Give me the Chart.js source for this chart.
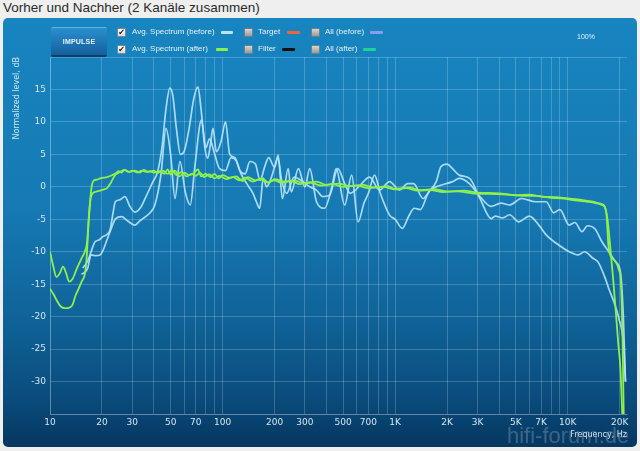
<!DOCTYPE html>
<html>
<head>
<meta charset="utf-8">
<script src="https://cdn.jsdelivr.net/npm/chart.js@4"></script>
<style>
  body { margin: 0; width: 640px; height: 451px; overflow: hidden; background: #efefef; position: relative; font-family: "Liberation Sans", Arial, sans-serif; }
  #title { position: absolute; left: 3px; top: 0px; font-size: 13.5px; color: #2b2b2b; white-space: nowrap; }
  #panel { position: absolute; left: 3px; top: 18px; width: 634px; height: 429px; border-radius: 5px; overflow: hidden;
    background: linear-gradient(#1785c0 0%, #1679b3 45%, #0f6398 70%, #0a4d7e 88%, #053760 100%); }
  #chart { position: absolute; left: 0; top: 0; }
  .txt { position: absolute; font-size: 8px; color: #e6f0f6; white-space: nowrap; line-height: 10px; }
  .box { position: absolute; width: 8px; height: 8px; border-radius: 1px; font-size: 8px; line-height: 8px; text-align: center; color: #1a1a1a; font-family: "DejaVu Sans", sans-serif; }
  .on { background: linear-gradient(#ffffff, #d8d8d8); border: 1px solid #7a8a98; width: 7px; height: 7px; }
  .off { background: linear-gradient(#d6d6d6, #9a9a9a); border: 1px solid #6f7f8c; width: 7px; height: 7px; }
  .sw { position: absolute; height: 3px; border-radius: 1px; }
  #impulse { position: absolute; left: 51px; top: 27px; width: 56px; height: 27px; border-radius: 2px;
    background: linear-gradient(#2a8fd0, #155f9c); border-top: 1px solid #5cb2e6; border-bottom: 2px solid #0b3d68;
    color: #e4f2ff; font-size: 7px; font-weight: bold; text-align: center; line-height: 27px; letter-spacing: 0.2px; }
  #mark { position: absolute; left: 507px; top: 423px; font-size: 22px; color: rgba(175,190,205,0.32); white-space: nowrap; font-family: "Liberation Sans", Arial, sans-serif; }
</style>
</head>
<body>
<div id="title">Vorher und Nachher (2 Kanäle zusammen)</div>
<div id="panel"><canvas id="chart" width="634" height="429"></canvas></div>

<div id="impulse">IMPULSE</div>

<div class="box on" style="left:117px;top:28px;">✔</div>
<div class="txt" style="left:132px;top:27px;">Avg. Spectrum (before)</div>
<div class="sw" style="left:221px;top:31px;width:12px;background:#b8e4f8;"></div>
<div class="box off" style="left:244px;top:28px;"></div>
<div class="txt" style="left:258px;top:27px;">Target</div>
<div class="sw" style="left:287px;top:31px;width:13px;background:#f0643c;"></div>
<div class="box off" style="left:311px;top:28px;"></div>
<div class="txt" style="left:325px;top:27px;">All (before)</div>
<div class="sw" style="left:370px;top:31px;width:13px;background:#8a9cf0;"></div>

<div class="box on" style="left:117px;top:45px;">✔</div>
<div class="txt" style="left:132px;top:44px;">Avg. Spectrum (after)</div>
<div class="sw" style="left:216px;top:48px;width:12px;background:#8cf04a;"></div>
<div class="box off" style="left:244px;top:45px;"></div>
<div class="txt" style="left:258px;top:44px;">Filter</div>
<div class="sw" style="left:282px;top:48px;width:13px;background:#111111;"></div>
<div class="box off" style="left:311px;top:45px;"></div>
<div class="txt" style="left:325px;top:44px;">All (after)</div>
<div class="sw" style="left:363px;top:48px;width:13px;background:#1ad49a;"></div>

<div class="txt" style="left:577px;top:32px;font-size:7px;">100%</div>
<div id="mark">hifi-forum.de</div>

<script>
// before = light blue, after = green, two channels each
const beforeFreqL = [15.5, 16.5, 17.3, 18.2, 19.2, 20.2, 21.2, 22.3, 23.2, 23.9,
  25.4, 27.2, 29, 31, 33.5, 36, 39.5, 42, 44.5, 47,
  49.5, 51.5, 54, 57, 60, 64, 68, 72, 75, 79,
  82, 85, 88, 92, 98, 104, 110, 118, 126, 135,
  144, 155, 165, 175, 185, 200, 210, 222, 240, 250,
  275, 300, 320, 350, 390, 430, 455, 510, 560, 610,
  660, 700, 760, 820, 930, 1000, 1100, 1200, 1290, 1400,
  1550, 1730, 1840, 2000, 2150, 2350, 2700, 3100, 3600, 3800,
  4200, 4600, 5200, 6000, 6800, 7500, 8900, 10200, 11500, 12500,
  14000, 15000, 16500, 17300, 18500, 19800, 21000, 21600];
const beforeDbL = [-12.5, -11.5, -10, -8.5, -8.2, -7.7, -7.4, -6.6, -4, -2.3,
  -2, -1.5, -3, -3.9, -3.2, -1.5, 0.8, 2.3, 6, 12,
  15.2, 14, 9, 5, 5.5, 9, 13.5, 15.4, 12, 6,
  4.4, 6.5, 9, 5.4, 7, 10, 5, 4.5, 2.5, 2,
  3.9, 3.5, 1, 3, 4.5, 3, 4.9, -1.8, 2.8, -0.8,
  2.8, 0, 2.8, -2.3, -3.3, 0, 2.8, -2.8, 1.8, -5.4,
  -2.5, -1, 1.8, -1, -4.4, -5, -6.4, -4.5, -3.3, -3.5,
  -1, 0.8, 3.1, 3.5, 2.8, 1.8, 1.3, -1.8, -4.9, -4.5,
  -4.8, -4.3, -5.4, -4.5, -5.9, -7.4, -9, -10, -10.5, -10,
  -11, -11.6, -14.1, -15.7, -17.7, -20.3, -24, -30];

const beforeFreqR = [15.2, 16.5, 17.3, 18.5, 19.5, 20.5, 21.5, 22.8, 24, 26,
  28, 31, 33, 34.5, 38, 40.5, 44, 47, 50, 53,
  56.6, 61, 65, 69, 75.5, 80, 84, 89, 96, 104,
  112, 120, 128, 138, 150, 157, 164, 172, 180, 188,
  200, 209, 220, 235, 260, 285, 320, 350, 380, 417,
  465, 510, 550, 590, 640, 711, 812, 928, 1060, 1180,
  1280, 1450, 1600, 1730, 2150, 2350, 2690, 3100, 3600, 4100,
  4600, 5400, 6500, 7500, 8300, 9000, 10200, 11000, 12100, 13000,
  14400, 15800, 17300, 19000, 20200, 21000, 21600];
const beforeDbR = [-13.5, -12.6, -10.5, -10.6, -10.5, -9.5, -8, -6.2, -4.9, -4.6,
  -5.2, -5.9, -5.3, -4.9, -4, -2.8, 2, 9, 5, -1.8,
  3.9, -1, -2.8, 3, 10.3, 6, 7.4, 5.5, 2.8, 2.5,
  4.5, 4, 2, 0.5, -1, -2.3, -3.3, 1.3, 0, 0.8,
  3, 4.4, 1, -1, 1.5, 1, 0, -0.5, -1.5, -1.3,
  2.8, 0.5, -1, -0.5, 0.5, 1.5, -0.5, 0.8, -0.5, 0.5,
  0.5, -1.8, -0.5, 0, 0.8, 1.3, 0.5, -1.5, -3, -2.5,
  -2.8, -1.8, -2.3, -2.3, -4, -3.5, -5.9, -5.5, -6.9, -6,
  -6.5, -8.5, -10, -11.6, -13.1, -20, -30];

const afterFreqL = [10, 10.5, 11, 11.5, 12.2, 13, 13.5, 14, 14.6, 15.25,
  15.9, 16.3, 16.7, 17.1, 17.5, 18, 18.7, 19.5, 20.5, 21.4,
  22.5, 23.8, 25, 26, 27, 28.5, 30, 32, 34, 36,
  38, 40, 43, 46, 48, 50, 53, 56, 60, 64,
  68, 72, 75, 80, 85, 90, 95, 100, 110, 120,
  130, 140, 155, 170, 185, 200, 230, 260, 300, 350,
  400, 470, 550, 650, 750, 900, 1000, 1200, 1400, 1700,
  2000, 2500, 3000, 4000, 5000, 6000, 7000, 8500, 10000, 12000,
  14000, 15500, 16300, 16800, 17200, 17800, 18500, 19200, 19800, 20200,
  20500, 20800, 21100];
const afterDbL = [-15.7, -16.6, -17.6, -18.4, -18.7, -18.6, -18.2, -16.9, -15.8, -14.6,
  -13.5, -11, -6, -2, 0.3, 1, 1.1, 1.3, 1.4, 1.5,
  1.7, 2, 2.4, 2.2, 2.6, 2.3, 2.5, 2.2, 2.5, 2.3,
  2.4, 2.2, 2.4, 2, 2.7, 1.9, 2.5, 1.6, 2.2, 1.8,
  2.1, 2.7, 1.6, 2, 1.5, 2, 1.3, 1.8, 1.4, 1.6,
  0.9, 1.5, 1, 1.3, 0.6, 1.2, 0.8, 1, 0.5, 0.8,
  0.3, 0.5, 0.1, 0.3, -0.1, 0.1, -0.3, -0.1, -0.5, -0.4,
  -0.7, -0.6, -0.9, -1, -1.3, -1.2, -1.5, -1.6, -1.8, -2,
  -2.3, -2.6, -2.9, -4.5, -9, -10.8, -11.2, -11.8, -12.8, -13.8,
  -17, -24, -35];

const afterFreqR = [10, 10.4, 10.9, 11.4, 11.9, 12.4, 12.9, 13.5, 14.3, 15.25,
  15.9, 16.4, 16.8, 17.2, 17.7, 18.2, 19.5, 20.5, 21.4, 22.5,
  23.8, 25.5, 27, 29, 31, 33, 35, 37, 40, 42,
  45, 48, 51, 54, 58, 62, 66, 70, 74, 78,
  84, 90, 96, 105, 115, 125, 135, 150, 165, 180,
  200, 220, 250, 280, 320, 370, 430, 500, 600, 700,
  850, 1000, 1150, 1350, 1600, 1900, 2300, 2800, 3500, 4500,
  5500, 6500, 8000, 9500, 11000, 13000, 14500, 15800, 16500, 17000,
  17600, 18300, 19000, 19600, 20200, 20700];
const afterDbR = [-10, -12, -13.9, -13.3, -12.3, -13.3, -14.6, -14.2, -12.6, -11,
  -10, -8.5, -4.5, -1.8, -1, -0.8, -0.6, -0.4, -0.2, 0.6,
  1.8, 2.3, 2.6, 2.3, 2.5, 2.2, 2.6, 2.3, 2.5, 2.1,
  2.5, 2, 2.6, 1.8, 2.3, 1.6, 2, 1.7, 2.2, 1.5,
  1.9, 1.3, 1.7, 1.2, 1.5, 1, 1.4, 0.8, 1.2, 0.7,
  1, 0.6, 0.9, 0.4, 0.7, 0.2, 0.4, 0, 0.2, -0.2,
  0, -0.4, -0.2, -0.6, -0.5, -0.8, -0.7, -1, -1.1, -1.2,
  -1.4, -1.4, -1.7, -1.8, -2.1, -2.3, -2.5, -2.8, -3.3, -5,
  -9, -14, -19.3, -24, -28, -35];

const xTicks = [10, 20, 30, 40, 50, 60, 70, 80, 90, 100, 200, 300, 400, 500, 600, 700, 800, 900,
  1000, 2000, 3000, 4000, 5000, 6000, 7000, 8000, 9000, 10000, 20000];
const xTickLabels = ['10', '20', '30', '', '50', '', '70', '', '', '100', '200', '300', '', '500', '', '700', '', '',
  '1K', '2K', '3K', '', '5K', '', '7K', '', '', '10K', '20K'];
const yTicks = [-35, -30, -25, -20, -15, -10, -5, 0, 5, 10, 15, 20];
const yTickLabels = ['', '-30', '-25', '-20', '-15', '-10', '-5', '0', '5', '10', '15', ''];

const toPoints = (freqs, dbs) => freqs.map((f, i) => ({ x: f, y: dbs[i] }));

const gridColor = 'rgba(255,255,255,0.2)';
const labelColor = '#d3e6f2';

const line = (label, freqs, dbs, color, width) => ({
  label: label,
  data: toPoints(freqs, dbs),
  borderColor: color,
  borderWidth: width,
  pointRadius: 0,
  fill: false,
  cubicInterpolationMode: 'monotone',
});

new Chart(document.getElementById('chart'), {
  type: 'line',
  data: {
    datasets: [
      line('Avg. Spectrum (after) L', afterFreqL, afterDbL, '#8ef04c', 1.8),
      line('Avg. Spectrum (after) R', afterFreqR, afterDbR, '#8ef04c', 1.8),
      line('Avg. Spectrum (before) L', beforeFreqL, beforeDbL, 'rgba(185,228,250,0.9)', 1.7),
      line('Avg. Spectrum (before) R', beforeFreqR, beforeDbR, 'rgba(185,228,250,0.9)', 1.7),
    ],
  },
  options: {
    responsive: false,
    animation: false,
    layout: { padding: { left: 0, top: 39, right: 10, bottom: 0 } },
    plugins: { legend: { display: false }, tooltip: { enabled: false } },
    scales: {
      x: {
        type: 'logarithmic',
        min: 10,
        max: 22050,
        bounds: 'data',
        afterBuildTicks: (s) => { s.ticks = xTicks.map((v) => ({ value: v })); },
        afterFit: (s) => { s.height = 33; s.paddingLeft = 0; s.paddingRight = 0; },
        grid: { color: gridColor, drawTicks: false },
        border: { color: gridColor },
        ticks: {
          autoSkip: false,
          maxRotation: 0,
          padding: 3,
          color: labelColor,
          font: { family: 'DejaVu Sans', size: 9 },
          callback: (v, i) => xTickLabels[i],
        },
        title: {
          display: true,
          text: 'Frequency, Hz',
          align: 'end',
          color: labelColor,
          font: { family: 'DejaVu Sans', size: 8 },
          padding: { top: 0, bottom: 7 },
        },
      },
      y: {
        min: -35,
        max: 20,
        afterBuildTicks: (s) => { s.ticks = yTicks.map((v) => ({ value: v })); },
        afterFit: (s) => { s.width = 47; },
        grid: { color: gridColor, drawTicks: false },
        border: { color: gridColor },
        ticks: {
          padding: 4,
          color: labelColor,
          font: { family: 'DejaVu Sans', size: 9 },
          callback: (v, i) => yTickLabels[i],
        },
        title: {
          display: true,
          text: 'Normalized level, dB',
          align: 'end',
          color: labelColor,
          font: { family: 'DejaVu Sans', size: 8 },
          padding: { top: 9, bottom: 0 },
        },
      },
    },
  },
});
</script>
</body>
</html>
